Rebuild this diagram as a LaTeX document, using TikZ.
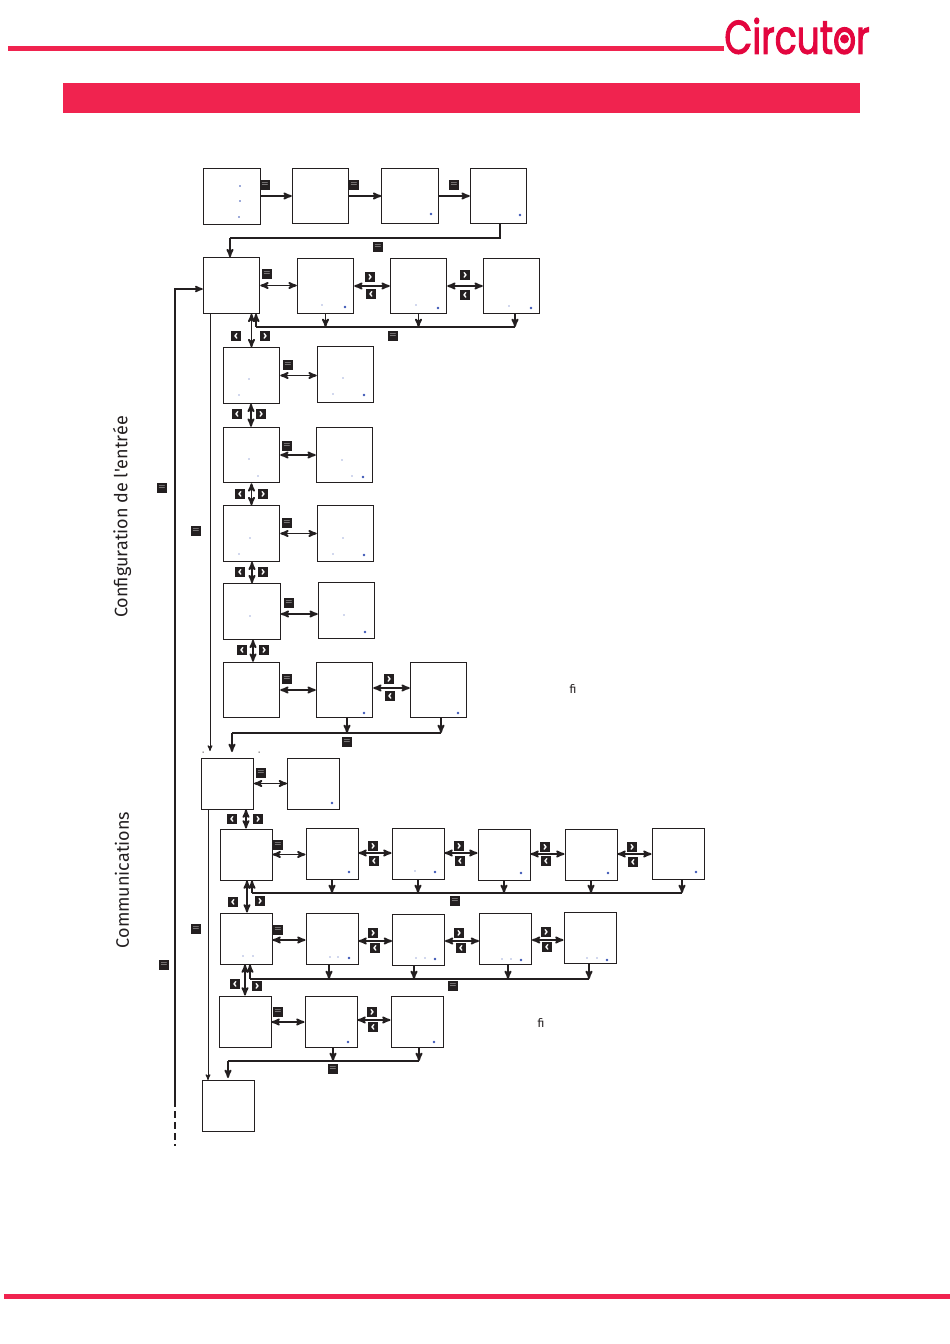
\documentclass[tikz,border=0pt]{standalone}
\usepackage{fontspec}
\setmainfont{Fira Sans}
\newfontfamily\logofont[FakeBold=2.5]{Poppins}
\usetikzlibrary{arrows}
\definecolor{bandred}{HTML}{F0234F}
\definecolor{logored}{HTML}{E3063F}
\definecolor{keyblack}{HTML}{231F20}
\definecolor{dotblue}{HTML}{3B55B5}
\newcommand{\keyenter}{$=$}
\newcommand{\keynext}{\fontsize{11}{11}\selectfont›}
\newcommand{\keyback}{\fontsize{11}{11}\selectfont‹}

\begin{document}
\begin{tikzpicture}[x=1pt,y=-1pt,>=stealth',shorten >=0pt,
  line width=1.8pt,draw=keyblack,
  screen/.style={draw,line width=1pt,rectangle,minimum width=56.5pt,minimum height=55.5pt,inner sep=0pt},
  small screen/.style={screen,minimum width=52pt,minimum height=51pt},
  thin flow/.style={line width=1pt},
  key/.style={fill=keyblack,text=white,rectangle,minimum size=9.5pt,inner sep=0pt,font=\fontsize{9}{9}\selectfont\bfseries},
  side text/.style={rotate=90,text=keyblack,font=\fontsize{18}{18}\selectfont},
  small dot/.style={fill=dotblue},
  big dot/.style={fill=dotblue}]
  \useasboundingbox (0,0) rectangle (950,1344);

  % header and footer
  \coordinate (ruletop1) at (8,48);
  \coordinate (ruletop2) at (724,48);
  \coordinate (rulebot1) at (4,1296);
  \coordinate (rulebot2) at (950,1296);
  \draw[bandred,line width=5pt] (ruletop1) -- (ruletop2);
  \draw[bandred,line width=5pt] (rulebot1) -- (rulebot2);
  \fill[bandred] (63,83) rectangle (860,113);
  \node[text=logored,inner sep=0pt,xscale=.77,font=\fontsize{47}{47}\logofont] (logo) at (797,36) {Circutor};
  \fill[logored] (844.5,39) circle (4.5);

  % screens of the first block
  \node[screen] (a1) at (232,196.5) {};
  \node[screen] (a2) at (320.5,196) {};
  \node[screen] (a3) at (410,196) {};
  \node[screen] (a4) at (498.5,196) {};
  \node[screen] (b0) at (231.5,285.5) {};
  \node[screen] (b1) at (325.5,286) {};
  \node[screen] (b2) at (418.5,286) {};
  \node[screen] (b3) at (511.5,286) {};
  \node[screen] (c0) at (251.5,375.5) {};
  \node[screen] (c1) at (345.5,374.5) {};
  \node[screen] (d0) at (251.5,455) {};
  \node[screen] (d1) at (344.5,455) {};
  \node[screen] (e0) at (251.5,533.5) {};
  \node[screen] (e1) at (345.5,533.5) {};
  \node[screen] (f0) at (252,611.5) {};
  \node[screen] (f1) at (346.5,610.5) {};
  \node[screen] (g0) at (251.5,690) {};
  \node[screen] (g1) at (344.5,690) {};
  \node[screen] (g2) at (438.5,690) {};

  % screens of the second block
  \node[small screen] (h0) at (227.5,783.5) {};
  \node[small screen] (h1) at (313.5,783.5) {};
  \node[small screen] (i0) at (246,854.5) {};
  \node[small screen] (i1) at (332,854) {};
  \node[small screen] (i2) at (418,854) {};
  \node[small screen] (i3) at (504,854.5) {};
  \node[small screen] (i4) at (591,855) {};
  \node[small screen] (i5) at (678,854) {};
  \node[small screen] (j0) at (246,938.5) {};
  \node[small screen] (j1) at (332,938.5) {};
  \node[small screen] (j2) at (418.5,939.5) {};
  \node[small screen] (j3) at (505.5,939) {};
  \node[small screen] (j4) at (590,938) {};
  \node[small screen] (k0) at (245,1021.5) {};
  \node[small screen] (k1) at (331,1021.5) {};
  \node[small screen] (k2) at (417,1022) {};
  \node[small screen] (l0) at (228,1106) {};

  % points where the return lines turn
  \coordinate (abright) at (500,238);
  \coordinate (ableft) at (230,238);
  \coordinate (bleft) at (256,327);
  \coordinate (bright) at (515,327);
  \coordinate (gleft) at (232,733);
  \coordinate (gleftend) at (232,752);
  \coordinate (gone) at (347,733);
  \coordinate (gtwo) at (441,733);
  \coordinate (hthin) at (210,751);
  \coordinate (ileft) at (252,893);
  \coordinate (iright) at (682,893);
  \coordinate (jleft) at (250,979);
  \coordinate (jone) at (329,979);
  \coordinate (jtwo) at (414,979);
  \coordinate (jthree) at (508,979);
  \coordinate (jright) at (589,979);
  \coordinate (kleft) at (228,1061);
  \coordinate (kone) at (333,1061);
  \coordinate (kright) at (419,1061);
  \coordinate (sidetop) at (175,289);
  \coordinate (sidebot) at (175,1100);
  \coordinate (sideend) at (175,1146);

  % first block, forward and back
  \path
    ([yshift=.5pt]a1.east) edge[->] (a2.west)
    (a2.east) edge[->] (a3.west)
    (a3.east) edge[->] (a4.west)
    (b0.east) edge[<->] ([yshift=.5pt]b1.west)
    (b1.east) edge[<->] (b2.west)
    (b2.east) edge[<->] (b3.west)
    (c0.east) edge[<->] ([yshift=-1pt]c1.west)
    (d0.east) edge[<->] (d1.west)
    (e0.east) edge[<->] (e1.west)
    ([yshift=-2.5pt]f0.east) edge[<->] ([yshift=-3.5pt]f1.west)
    (g0.east) edge[<->] (g1.west)
    ([yshift=2pt]g1.east) edge[<->] ([yshift=2pt]g2.west)
    (c0.north) edge[<->] (c0.north |- b0.south)
    ([xshift=-.5pt]d0.north) edge[<->] ([xshift=-.5pt]c0.south)
    (e0.north) edge[<->] (e0.north |- d0.south)
    (f0.north) edge[<->] (f0.north |- e0.south)
    ([xshift=1.5pt]g0.north) edge[<->] ([xshift=1pt]f0.south)
    (b1.south) edge[->] (b1.south |- bleft)
    (b2.south) edge[->] (b2.south |- bleft)
    (bright |- b3.south) edge[->] (bright)
    (gone |- g1.south) edge[->] (gone)
    (gtwo |- g2.south) edge[->] (gtwo);
  \draw (abright |- a4.south) -- (abright) -- (ableft);
  \draw[->] (ableft) -- (ableft |- b0.north);
  \draw (bright) -- (bleft);
  \draw[->] (bleft) -- (bleft |- b0.south);
  \draw (gtwo) -- (gleft);
  \draw[->] (gleft) -- (gleftend);

  % second block, forward and back
  \path
    (h0.east) edge[<->] (h1.west)
    (i0.east) edge[<->] ([yshift=-.5pt]i1.west)
    ([yshift=1pt]i1.east) edge[<->] ([yshift=1pt]i2.west)
    ([yshift=1pt]i2.east) edge[<->] ([yshift=1.5pt]i3.west)
    ([yshift=.5pt]i3.east) edge[<->] ([yshift=1pt]i4.west)
    ([yshift=1pt]i4.east) edge[<->] (i5.west)
    ([yshift=-1.5pt]j0.east) edge[<->] ([yshift=-1.5pt]j1.west)
    ([yshift=-2.5pt]j1.east) edge[<->] ([yshift=-1.5pt]j2.west)
    ([yshift=-1.5pt]j2.east) edge[<->] ([yshift=-2pt]j3.west)
    ([yshift=-1pt]j3.east) edge[<->] ([yshift=-2pt]j4.west)
    ([yshift=-.5pt]k0.east) edge[<->] ([yshift=-.5pt]k1.west)
    ([yshift=1.5pt]k1.east) edge[<->] ([yshift=2pt]k2.west)
    (i0.north) edge[<->] (i0.north |- h0.south)
    ([xshift=1pt]j0.north) edge[<->] ([xshift=1pt]i0.south)
    (k0.north) edge[<->] (k0.north |- j0.south)
    (i1.south) edge[->] (i1.south |- ileft)
    (i2.south) edge[->] (i2.south |- ileft)
    (i3.south) edge[->] (i3.south |- ileft)
    (i4.south) edge[->] (i4.south |- ileft)
    (iright |- i5.south) edge[->] (iright)
    (jone |- j1.south) edge[->] (jone)
    (jtwo |- j2.south) edge[->] (jtwo)
    (jthree |- j3.south) edge[->] (jthree)
    (jright |- j4.south) edge[->] (jright)
    (kone |- k1.south) edge[->] (kone)
    (kright |- k2.south) edge[->] (kright);
  \draw (iright) -- (ileft);
  \draw[->] (ileft) -- (ileft |- i0.south);
  \draw (jright) -- (jleft);
  \draw[->] (jleft) -- (jleft |- j0.south);
  \draw (kright) -- (kleft);
  \draw[->,shorten >=2pt] (kleft) -- (l0.north);

  % long lines on the left
  \draw[->,line width=1.6pt] (sidebot) -- (sidetop) -- ([yshift=-3.5pt]b0.west);
  \draw[dashed,line width=1.6pt,dash pattern=on 7pt off 4pt] (sidebot) -- (sideend);
  \draw[->,thin flow] ([xshift=-21.5pt]b0.south) -- (hthin);
  \draw[->,thin flow] ([xshift=-19.5pt]h0.south) -- ([xshift=-20pt]l0.north);
  \fill[keyblack] (202.5,751.5) rectangle (203.5,752.5) (258.5,751.5) rectangle (259.5,752.5);

  % keys, enter
  \node[key] (eq1) at (265,185) {\keyenter};
  \node[key] (eq2) at (354,185) {\keyenter};
  \node[key] (eq3) at (454,185) {\keyenter};
  \node[key] (eq4) at (378,247) {\keyenter};
  \node[key] (eq5) at (267,274) {\keyenter};
  \node[key] (eq6) at (393,336) {\keyenter};
  \node[key] (eq7) at (288,365) {\keyenter};
  \node[key] (eq8) at (287,446) {\keyenter};
  \node[key] (eq9) at (287,523) {\keyenter};
  \node[key] (eq10) at (289,603) {\keyenter};
  \node[key] (eq11) at (287,679) {\keyenter};
  \node[key] (eq12) at (347,742) {\keyenter};
  \node[key] (eq13) at (261,773) {\keyenter};
  \node[key] (eq14) at (278,845) {\keyenter};
  \node[key] (eq15) at (455,901) {\keyenter};
  \node[key] (eq16) at (278,930) {\keyenter};
  \node[key] (eq17) at (453,986) {\keyenter};
  \node[key] (eq18) at (278,1012) {\keyenter};
  \node[key] (eq19) at (333,1069) {\keyenter};
  \node[key] (eq20) at (162,488) {\keyenter};
  \node[key] (eq21) at (196,531) {\keyenter};
  \node[key] (eq22) at (196,929) {\keyenter};
  \node[key] (eq23) at (164,965) {\keyenter};

  % keys, next
  \node[key] (nx1) at (370,277) {\keynext};
  \node[key] (nx2) at (465,275) {\keynext};
  \node[key] (nx3) at (265,336) {\keynext};
  \node[key] (nx4) at (261,414) {\keynext};
  \node[key] (nx5) at (263,494) {\keynext};
  \node[key] (nx6) at (263,572) {\keynext};
  \node[key] (nx7) at (264,650) {\keynext};
  \node[key] (nx8) at (389,679) {\keynext};
  \node[key] (nx9) at (258,819) {\keynext};
  \node[key] (nx10) at (373,846) {\keynext};
  \node[key] (nx11) at (459,846) {\keynext};
  \node[key] (nx12) at (545,847) {\keynext};
  \node[key] (nx13) at (632,847) {\keynext};
  \node[key] (nx14) at (260,901) {\keynext};
  \node[key] (nx15) at (373,933) {\keynext};
  \node[key] (nx16) at (459,933) {\keynext};
  \node[key] (nx17) at (546,932) {\keynext};
  \node[key] (nx18) at (257,986) {\keynext};
  \node[key] (nx19) at (372,1012) {\keynext};

  % keys, back
  \node[key] (bk1) at (371,294) {\keyback};
  \node[key] (bk2) at (465,295) {\keyback};
  \node[key] (bk3) at (236,336) {\keyback};
  \node[key] (bk4) at (237,414) {\keyback};
  \node[key] (bk5) at (240,494) {\keyback};
  \node[key] (bk6) at (240,572) {\keyback};
  \node[key] (bk7) at (242,650) {\keyback};
  \node[key] (bk8) at (390,696) {\keyback};
  \node[key] (bk9) at (232,819) {\keyback};
  \node[key] (bk10) at (374,861) {\keyback};
  \node[key] (bk11) at (460,861) {\keyback};
  \node[key] (bk12) at (546,861) {\keyback};
  \node[key] (bk13) at (633,862) {\keyback};
  \node[key] (bk14) at (233,902) {\keyback};
  \node[key] (bk15) at (375,948) {\keyback};
  \node[key] (bk16) at (461,948) {\keyback};
  \node[key] (bk17) at (547,947) {\keyback};
  \node[key] (bk18) at (235,984) {\keyback};
  \node[key] (bk19) at (373,1027) {\keyback};

  % texts
  \node[side text] (sideone) at (122,517) {Configuration de l\textquotesingle entrée};
  \node[side text] (sidetwo) at (122,880) {Communications};
  \node[text=keyblack,font=\fontsize{12}{12}\selectfont] (fione) at (573,689) {fi};
  \node[text=keyblack,font=\fontsize{12}{12}\selectfont] (fitwo) at (541,1023) {fi};

  % marks inside the screens
  \fill[small dot] (240,186) circle (.8) (240,201) circle (.8) (239,217) circle (.8)
    (322,305) circle (.7) (416,305) circle (.7) (509,306) circle (.7)
    (249,379) circle (.7) (239,395) circle (.7) (343,378) circle (.7) (333,394) circle (.7)
    (249,459) circle (.7) (258,476) circle (.7) (342,460) circle (.7) (352,476) circle (.7)
    (250,538) circle (.7) (239,554) circle (.7) (343,538) circle (.7) (333,554) circle (.7)
    (250,616) circle (.7) (344,615) circle (.7) (415,871) circle (.7)
    (243,956) circle (.7) (253,956) circle (.7) (330,957) circle (.7) (338,957) circle (.7)
    (416,958) circle (.7) (425,958) circle (.7) (502,959) circle (.7) (511,959) circle (.7)
    (587,958) circle (.7) (597,958) circle (.7);
  \fill[big dot] (431,214) circle (1.4) (520,215) circle (1.4) (345,307) circle (1.4)
    (438,308) circle (1.4) (531,308) circle (1.4) (364,395) circle (1.4) (363,477) circle (1.4)
    (364,555) circle (1.4) (365,632) circle (1.4) (364,713) circle (1.4) (458,713) circle (1.4)
    (332,803) circle (1.4) (349,872) circle (1.4) (435,872) circle (1.4) (521,873) circle (1.4)
    (608,873) circle (1.4) (696,872) circle (1.4) (349,958) circle (1.4) (435,959) circle (1.4)
    (521,960) circle (1.4) (607,960) circle (1.4) (348,1042) circle (1.4) (434,1042) circle (1.4);
\end{tikzpicture}
\end{document}
